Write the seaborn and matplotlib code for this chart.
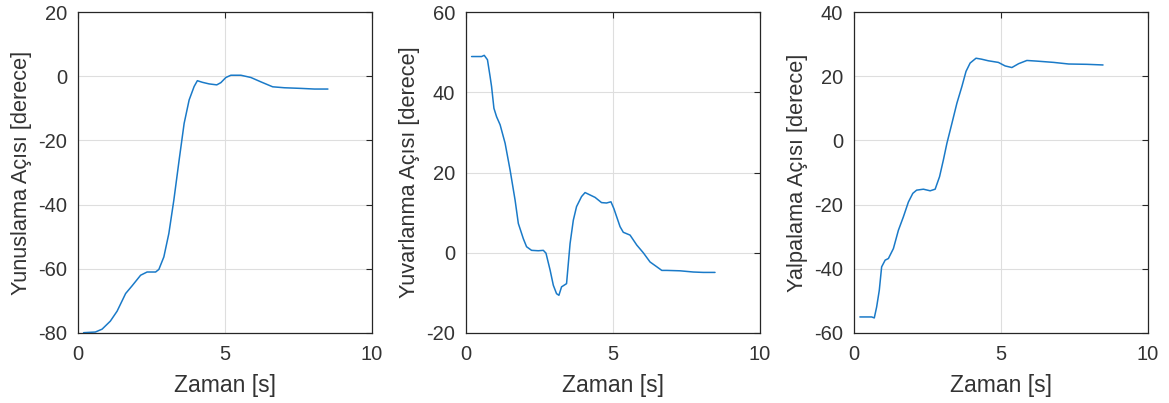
import numpy as np
import pandas as pd
import matplotlib
matplotlib.use("Agg")
import matplotlib.pyplot as plt
import seaborn as sns

# ---- data ----
t_pitch = [0.19, 0.59, 0.82, 1.10, 1.33, 1.62, 1.84, 2.13, 2.35, 2.64, 2.75, 2.92, 3.09, 3.26,
           3.44, 3.61, 3.78, 3.95, 4.06, 4.23, 4.46, 4.72, 4.86, 5.03, 5.20, 5.54, 5.88, 6.23,
           6.62, 7.02, 7.59, 8.04, 8.50]
pitch = [-79.9, -79.7, -78.8, -76.3, -73.2, -67.7, -65.3, -62.0, -61.0, -61.0, -60.2, -56.3,
         -49.0, -38.6, -26.1, -14.7, -7.4, -3.2, -1.4, -1.9, -2.4, -2.7, -2.0, -0.4, 0.3, 0.3,
         -0.4, -1.8, -3.3, -3.6, -3.8, -4.0, -4.0]

t_roll = [0.19, 0.53, 0.62, 0.73, 0.82, 0.87, 0.95, 1.04, 1.16, 1.33, 1.50, 1.67, 1.78, 1.95,
          2.06, 2.23, 2.46, 2.63, 2.72, 2.86, 2.97, 3.08, 3.16, 3.25, 3.42, 3.54, 3.65, 3.76,
          3.93, 4.05, 4.22, 4.39, 4.61, 4.78, 4.93, 5.03, 5.24, 5.35, 5.58, 5.81, 6.03, 6.26,
          6.49, 6.66, 6.83, 7.28, 7.73, 8.07, 8.47]
roll = [48.9, 48.9, 49.2, 48.1, 43.9, 41.4, 36.0, 33.9, 31.9, 27.3, 20.6, 13.1, 7.3, 3.5, 1.5,
        0.6, 0.5, 0.6, -0.1, -4.3, -8.1, -10.2, -10.6, -8.5, -7.7, 2.3, 8.1, 11.5, 14.0, 15.0,
        14.4, 13.8, 12.5, 12.4, 12.7, 11.0, 6.5, 5.1, 4.4, 1.9, 0.0, -2.3, -3.5, -4.4, -4.4,
        -4.5, -4.8, -4.9, -4.9]

t_yaw = [0.20, 0.60, 0.69, 0.77, 0.86, 0.94, 1.06, 1.17, 1.34, 1.51, 1.68, 1.85, 2.00, 2.13,
         2.36, 2.59, 2.76, 2.91, 3.04, 3.16, 3.33, 3.50, 3.67, 3.81, 3.95, 4.15, 4.34, 4.57,
         4.91, 5.14, 5.37, 5.60, 5.88, 6.22, 6.79, 7.30, 7.92, 8.47]
yaw = [-55.0, -55.0, -55.3, -51.9, -46.7, -39.4, -37.3, -36.8, -33.7, -28.0, -23.8, -19.2,
       -16.5, -15.5, -15.2, -15.7, -15.2, -11.3, -6.1, -0.9, 5.3, 11.6, 16.8, 21.5, 24.1, 25.6,
       25.3, 24.8, 24.3, 23.2, 22.7, 23.9, 24.9, 24.7, 24.3, 23.8, 23.7, 23.5]

x_ticks = [0, 5, 10]
ylabels = ["Yunuslama Açısı [derece]", "Yuvarlanma Açısı [derece]", "Yalpalama Açısı [derece]"]
xlabel = "Zaman [s]"
ylims = [(-80, 20), (-20, 60), (-60, 40)]

sns.set_theme(style="white")
plt.rcParams['font.family'] = ['Liberation Sans', 'DejaVu Sans']
plt.rcParams['axes.unicode_minus'] = False

txt = "#333333"
fig = plt.figure(figsize=(11.69, 4.03), dpi=100)
lefts = [78, 466, 854]
series = [(t_pitch, pitch), (t_roll, roll), (t_yaw, yaw)]
for i in range(3):
    ax = fig.add_axes([lefts[i] / 1169, 70 / 403, 294 / 1169, 321 / 403])
    t, v = series[i]
    df = pd.DataFrame({"t": t, "v": v})
    sns.lineplot(data=df, x="t", y="v", ax=ax, color="#1a7ac8", linewidth=1.1)
    ax.set_xlim(0, 10)
    ax.set_ylim(*ylims[i])
    ax.set_xticks(x_ticks)
    ax.set_yticks(np.arange(ylims[i][0], ylims[i][1] + 1, 20))
    ax.grid(True, color="#dedede", linewidth=0.8)
    ax.set_axisbelow(True)
    for s in ax.spines.values():
        s.set_visible(True)
        s.set_color("#262626")
        s.set_linewidth(0.9)
    ax.tick_params(direction="in", length=4, width=0.8, top=True, right=True,
                   labelsize=14.5, colors=txt)
    ax.tick_params(axis="x", pad=9)
    ax.tick_params(axis="y", pad=8)
    ax.tick_params(axis="both", which="both", color="#262626")
    ax.set_xlabel(xlabel, fontsize=16.5, color=txt, labelpad=7)
    ax.set_ylabel(ylabels[i], fontsize=15.7, color=txt, labelpad=4)

fig.savefig("out.png", dpi=100)
